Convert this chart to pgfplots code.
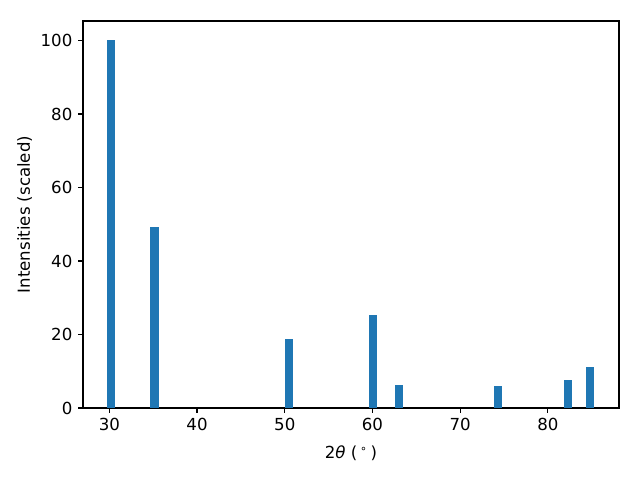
\documentclass[border=0pt]{standalone}
\usepackage{fontspec}
\setmainfont{DejaVu Sans}
\usepackage{pgfplots}
\pgfplotsset{compat=1.18}
\definecolor{tabblue}{HTML}{1F77B4}
\begin{document}
\fontsize{12pt}{14pt}\selectfont
\begin{tikzpicture}
\begin{axis}[
  scale only axis,
  width=387.4pt, height=279.7pt,
  xmin=27.0, xmax=88.1,
  ymin=0, ymax=105.3,
  xtick={30,40,50,60,70,80},
  ytick={0,20,40,60,80,100},
  tick align=outside,
  major tick length=3.5pt,
  tick style={line width=0.8pt, black},
  axis line style={line width=0.8pt},
  axis lines=box,
  xtick pos=bottom, ytick pos=left,
  /pgf/number format/assume math mode=true,
  ticklabel style={font=\fontsize{12pt}{14pt}\selectfont},
  label style={font=\fontsize{12pt}{14pt}\selectfont},
  xlabel={2{\itshape θ} (\,\textsuperscript{∘}\,)},
  ylabel={Intensities (scaled)},
  xlabel style={yshift=-2pt},
  ylabel style={yshift=-2pt},
  ybar, bar width=0.8, bar shift=0pt,
]
\addplot[fill=tabblue, draw=tabblue, line width=0pt] coordinates {
  (30.2,100) (35.15,49.0) (50.5,18.6) (60.05,25.3) (63.0,6.1)
  (74.3,5.8) (82.25,7.5) (84.85,10.9)
};
\end{axis}
\pgfresetboundingbox
\path ([xshift=-60pt,yshift=-52pt]current axis.south west) rectangle ([xshift=15.2pt,yshift=15.2pt]current axis.north east);
\end{tikzpicture}
\end{document}
